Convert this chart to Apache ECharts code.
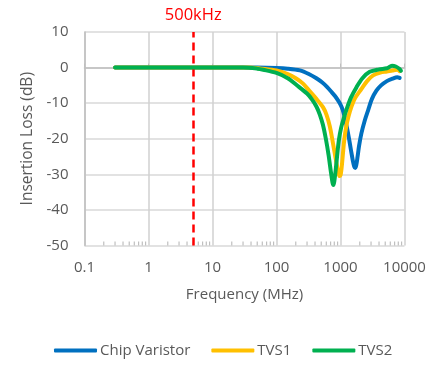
<!DOCTYPE html>
<html><head><meta charset="utf-8">
<script src="https://cdn.jsdelivr.net/npm/echarts@6/dist/echarts.min.js"></script>
<style>html,body{margin:0;padding:0;background:#fff}#c{width:442px;height:379px}</style>
</head><body><div id="c"></div>
<script>
const seriesNames = ['Chip Varistor', 'TVS1', 'TVS2'];
const seriesColors = ['#0070C0', '#FFC000', '#00B050'];

const freqVaristor = [0.3, 10, 50, 100, 150, 232, 320, 420, 520, 620, 720, 820, 920, 1000, 1080, 1160, 1250, 1360, 1460, 1560, 1640, 1700, 1760, 1850, 1950, 2120, 2400, 2700, 3100, 3640, 4300, 5300, 6500, 7700, 8400];
const lossVaristor = [0, 0, 0, -0.1, -0.3, -0.8, -1.8, -3, -4.2, -5.5, -6.8, -8, -9.3, -10.4, -11.8, -13.8, -16.5, -20, -23.3, -26.2, -27.8, -28.2, -27.5, -25, -22, -18.5, -14.8, -12, -8.8, -6.5, -5, -3.8, -3.1, -2.7, -2.9];

const freqTVS1 = [0.3, 10, 38, 60, 100, 150, 200, 260, 332, 420, 535, 605, 680, 750, 820, 900, 960, 1000, 1050, 1100, 1150, 1230, 1330, 1480, 1700, 2130, 2600, 3230, 4200, 5300, 6500, 7700, 8400];
const lossTVS1 = [0, 0, 0, -0.3, -0.8, -1.8, -3, -4.5, -6.7, -8.8, -11.2, -13.3, -16.5, -20.5, -24.5, -28.5, -30.5, -30.3, -27.5, -23.5, -20, -16.5, -13.8, -11, -8.5, -6, -3.8, -2.2, -1.4, -1.1, -0.8, -0.6, -1];

const freqTVS2 = [0.3, 10, 30, 50, 62, 100, 150, 206, 300, 360, 422, 475, 530, 590, 650, 710, 750, 775, 800, 850, 900, 950, 1020, 1120, 1240, 1450, 1780, 2200, 2860, 4000, 5300, 6380, 7300, 8400, 8800];
const lossTVS2 = [0, 0, 0, -0.3, -0.6, -1.5, -3, -4.9, -7.3, -9, -11, -13.2, -16, -20, -24.5, -29.5, -32.3, -33, -32, -28, -23.5, -20, -17, -14.3, -11.8, -8.5, -5.5, -3, -1.2, -0.5, -0.2, 0.5, 0.3, -0.4, -0.9];

const xTickValues = [0.1, 1, 10, 100, 1000, 10000];
const xTickLabels = ['0.1', '1', '10', '100', '1000', '10000'];
const yTicks = [-50, -40, -30, -20, -10, 0, 10];
const minorTickFreqs = [0.2, 0.3, 0.4, 0.5, 0.6, 0.7, 0.8, 0.9,
  2, 3, 4, 5, 6, 7, 8, 9,
  20, 30, 40, 50, 60, 70, 80, 90,
  200, 300, 400, 500, 600, 700, 800, 900,
  2000, 3000, 4000, 5000, 6000, 7000, 8000, 9000];
const markerFreq = 5;
const markerLabel = '500kHz';

function zip(xs, ys) { return xs.map((x, i) => [x, ys[i]]); }
const FONT = '"Open Sans"';
const labelColor = '#595959';
const yMin = yTicks[0], yMax = yTicks[yTicks.length - 1];

const lineSeries = [
  zip(freqVaristor, lossVaristor),
  zip(freqTVS1, lossTVS1),
  zip(freqTVS2, lossTVS2)
].map((d, i) => ({
  name: seriesNames[i],
  type: 'line',
  data: d,
  smooth: 0.3,
  showSymbol: false,
  symbol: 'none',
  lineStyle: { width: 4, color: seriesColors[i], cap: 'round', join: 'round' },
  itemStyle: { color: seriesColors[i] },
  z: 3 + i
}));

lineSeries[0].markLine = {
  silent: true,
  symbol: 'none',
  lineStyle: { color: '#FF0000', type: [8, 5], width: 2.5 },
  label: { show: true, position: 'end', formatter: markerLabel, color: '#FF0000', fontFamily: FONT, fontSize: 16.5, distance: 8 },
  data: [{ xAxis: markerFreq }],
  animation: false
};

const chart = echarts.init(document.getElementById('c'));
chart.setOption({
  animation: false,
  backgroundColor: '#fff',
  grid: { left: 84.5, right: 37.5, top: 32, bottom: 133.5 },
  legend: {
    data: seriesNames,
    left: 49, top: 338,
    icon: 'roundRect',
    itemWidth: 43, itemHeight: 4,
    itemGap: 21,
    textStyle: { fontFamily: FONT, fontSize: 15, color: labelColor, padding: [0, 0, 0, -2] }
  },
  xAxis: {
    type: 'log', logBase: 10, min: 0.1, max: 10000,
    name: 'Frequency (MHz)', nameLocation: 'middle', nameGap: 42,
    nameTextStyle: { fontFamily: FONT, fontSize: 15, color: labelColor },
    axisLine: { show: true, lineStyle: { color: '#bfbfbf', width: 1.5 } },
    axisTick: { show: true, inside: true, length: 4, lineStyle: { color: '#bfbfbf' } },
    minorTick: { show: false },
    axisLabel: { fontFamily: FONT, fontSize: 15, color: labelColor, margin: 15,
      formatter: v => { const i = xTickValues.findIndex(t => Math.abs(Math.log10(t) - Math.log10(v)) < 1e-6); return i >= 0 ? xTickLabels[i] : ''; } },
    splitLine: { show: true, lineStyle: { color: '#d0d0d0', width: 1.5 } }
  },
  yAxis: {
    type: 'value', min: yMin, max: yMax, interval: 10,
    name: 'Insertion Loss (dB)', nameLocation: 'middle', nameGap: 43,
    nameTextStyle: { fontFamily: FONT, fontSize: 15.5, color: labelColor },
    axisLine: { show: true, lineStyle: { color: '#bfbfbf', width: 1.5 } },
    axisTick: { show: false },
    axisLabel: { fontFamily: FONT, fontSize: 15, color: labelColor, margin: 16 },
    splitLine: { show: true, lineStyle: { color: '#d9d9d9', width: 1.5 } }
  },
  series: [{
    type: 'custom',
    silent: true,
    data: minorTickFreqs.map(v => [v, yMin]),
    encode: { x: 0, y: 1 },
    renderItem: function (params, api) {
      const p = api.coord([api.value(0), api.value(1)]);
      return { type: 'line', shape: { x1: p[0], y1: p[1], x2: p[0], y2: p[1] - 4 },
        style: { stroke: '#bfbfbf', lineWidth: 1.2 } };
    },
    z: 2
  }].concat(lineSeries)
});
</script></body></html>
